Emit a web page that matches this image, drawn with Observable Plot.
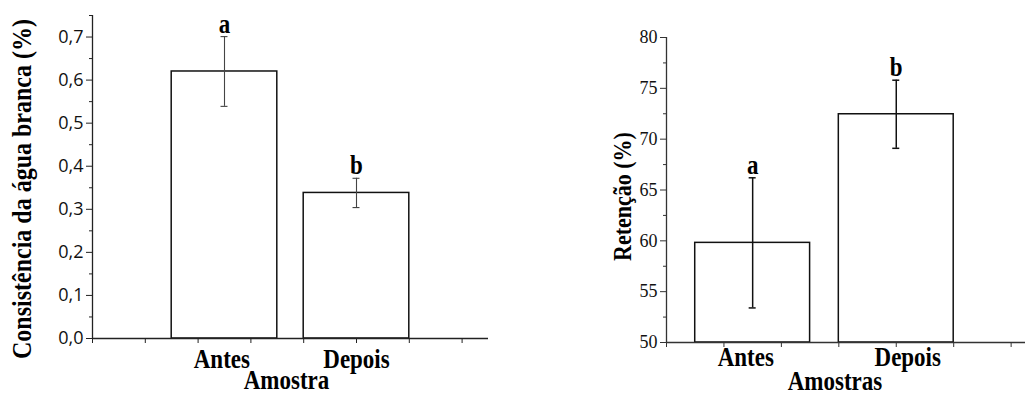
<!DOCTYPE html>
<html>
<head>
<meta charset="utf-8">
<script src="https://cdn.jsdelivr.net/npm/d3@7"></script>
<script src="https://cdn.jsdelivr.net/npm/@observablehq/plot@0.6"></script>
<style>
  html, body { margin: 0; padding: 0; background: #fff; }
  #wrap { position: relative; width: 1025px; height: 394px; overflow: hidden; }
  #left { position: absolute; left: 0; top: 0; }
  #right { position: absolute; left: 512px; top: 0; }
</style>
</head>
<body>
<div id="wrap"><div id="left"></div><div id="right"></div></div>
<script>
// ---- Left panel data ----
const leftCategories = ["Antes", "Depois"];
const leftBarX = [2.5, 5];          // bar centres on the Origin-style x axis
const leftLabelX = [2.45, 5];       // category tick-label positions
const leftValues = [0.62, 0.338];
const leftErrors = [0.081, 0.034];
const leftLetters = ["a", "b"];
const leftYMajor = [0, 0.1, 0.2, 0.3, 0.4, 0.5, 0.6, 0.7];
const leftYMinor = [0.05, 0.15, 0.25, 0.35, 0.45, 0.55, 0.65, 0.75];
const leftXTicks = [0, 1, 2, 3, 4, 5, 6, 7];
const leftYTitle = "Consistência da água branca (%)";
const leftXTitle = "Amostra";

// ---- Right panel data ----
const rightCategories = ["Antes", "Depois"];
const rightBarX = [1.5, 4];
const rightLabelX = [1.38, 4.2];
const rightValues = [59.8, 72.45];
const rightErrors = [6.4, 3.35];
const rightLetters = ["a", "b"];
const rightYMajor = [50, 55, 60, 65, 70, 75, 80];
const rightYMinor = [52.5, 57.5, 62.5, 67.5, 72.5, 77.5];
const rightXTicks = [0, 1, 2, 3, 4, 5, 6];
const rightYTitle = "Retenção (%)";
const rightXTitle = "Amostras";

const serif = "Liberation Serif";

function table(cats, xs, lx, vals, errs, letters) {
  return cats.map((c, i) => ({cat: c, x: xs[i], lx: lx[i], v: vals[i], e: errs[i], letter: letters[i]}));
}

function panel(o) {
  const data = table(o.cats, o.xs, o.lx, o.vals, o.errs, o.letters);
  const halfBar = 1;
  return Plot.plot({
    width: o.width, height: 394,
    marginLeft: o.ml, marginRight: o.mr, marginTop: o.mt, marginBottom: o.mb,
    x: {type: "linear", domain: o.xDomain, axis: null},
    y: {domain: o.yDomain, axis: null},
    style: {background: "transparent", overflow: "visible", color: "#111"},
    marks: [
      Plot.rect(data, {x1: d => d.x - halfBar, x2: d => d.x + halfBar, y1: o.yDomain[0], y2: "v",
        fill: "white", stroke: "#111", strokeWidth: 1.5}),
      Plot.ruleX(data, {x: "x", y1: d => d.v - d.e, y2: d => d.v + d.e, stroke: o.errColor, strokeWidth: o.errWidth}),
      Plot.ruleY(data, {y: d => d.v + d.e, x1: d => d.x - o.cap, x2: d => d.x + o.cap, stroke: o.errColor, strokeWidth: o.errWidth}),
      Plot.ruleY(data, {y: d => d.v - d.e, x1: d => d.x - o.cap, x2: d => d.x + o.cap, stroke: o.errColor, strokeWidth: o.errWidth}),
      Plot.text(data, {x: "x", y: d => d.v + d.e, text: "letter", lineAnchor: "top", dy: -21.5,
        fontSize: 23, fontWeight: "bold", fontFamily: serif, fill: "#000"}),
      Plot.ruleX([o.xDomain[0]], {stroke: o.axisColor, strokeWidth: 1.3}),
      Plot.ruleY([o.yDomain[0]], {stroke: o.axisColor, strokeWidth: 1.3}),
      Plot.axisY({ticks: o.yMajor, tickSize: 6, tickFormat: () => "", label: null, stroke: o.axisColor}),
      Plot.axisY({ticks: o.yMinor, tickSize: 3, tickFormat: () => "", label: null, stroke: o.axisColor}),
      Plot.axisX({ticks: o.xTicks, tickSize: 5, tickFormat: () => "", label: null, stroke: o.axisColor}),
      Plot.text(o.yMajor, {x: o.xDomain[0], y: d => d, text: o.fmt, textAnchor: "end", lineAnchor: "middle",
        dx: -9, fontSize: o.tickSize, fontFamily: o.tickFont, fill: "#111"}),
      Plot.text(data, {x: "lx", y: o.yDomain[0], text: "cat", lineAnchor: "top", dy: o.catDy,
        fontSize: 23, fontWeight: "bold", fontFamily: serif, fill: "#000"}),
      Plot.text([o.xTitle], {frameAnchor: "bottom", text: d => d, lineAnchor: "top", dx: o.xtDx, dy: o.xtDy,
        fontSize: 23, fontWeight: "bold", fontFamily: serif, fill: "#000"}),
      Plot.text([o.yTitle], {frameAnchor: "left", text: d => d, rotate: -90, lineAnchor: "middle", textAnchor: "middle",
        dx: o.ytDx, dy: o.ytDy, fontSize: o.ytSize, fontWeight: "bold", fontFamily: serif, fill: "#000"})
    ]
  });
}

// The reference's bold serif lettering is slightly taller than normal Times; stretch it vertically.
function stretchText(svg, k) {
  svg.querySelectorAll('g[font-weight="bold"] text').forEach(el => {
    const b = el.getBBox();
    const cy = b.y + b.height / 2;
    const old = el.getAttribute("transform") || "";
    el.setAttribute("transform", `${old} translate(0,${cy}) scale(1,${k}) translate(0,${-cy})`);
  });
}

const leftSvg = panel({
  width: 512, ml: 92, mr: 24, mt: 15, mb: 56,
  xDomain: [0, 7.5], yDomain: [0, 0.75],
  cats: leftCategories, xs: leftBarX, lx: leftLabelX, vals: leftValues, errs: leftErrors, letters: leftLetters,
  yMajor: leftYMajor, yMinor: leftYMinor, xTicks: leftXTicks,
  fmt: d => d.toFixed(1).replace(".", ","), tickFont: "Open Sans", tickSize: 18,
  axisColor: "#222", errColor: "#444", errWidth: 1.1, cap: 0.066,
  catDy: 12, xTitle: leftXTitle, xtDx: -4, xtDy: 33,
  yTitle: leftYTitle, ytDx: -70, ytDy: 12, ytSize: 24
});
document.getElementById("left").appendChild(leftSvg);

const rightSvg = panel({
  width: 513, ml: 154, mr: 0, mt: 37, mb: 52,
  xDomain: [0, 6.25], yDomain: [50, 80],
  cats: rightCategories, xs: rightBarX, lx: rightLabelX, vals: rightValues, errs: rightErrors, letters: rightLetters,
  yMajor: rightYMajor, yMinor: rightYMinor, xTicks: rightXTicks,
  fmt: d => String(d), tickFont: "Liberation Serif", tickSize: 18,
  axisColor: "#333", errColor: "#111", errWidth: 1.5, cap: 0.061,
  catDy: 6.5, xTitle: rightXTitle, xtDx: -11, xtDy: 30,
  yTitle: rightYTitle, ytDx: -44, ytDy: 6.5, ytSize: 22
});
document.getElementById("right").appendChild(rightSvg);

stretchText(leftSvg, 1.15);
stretchText(rightSvg, 1.15);
</script>
</body>
</html>
